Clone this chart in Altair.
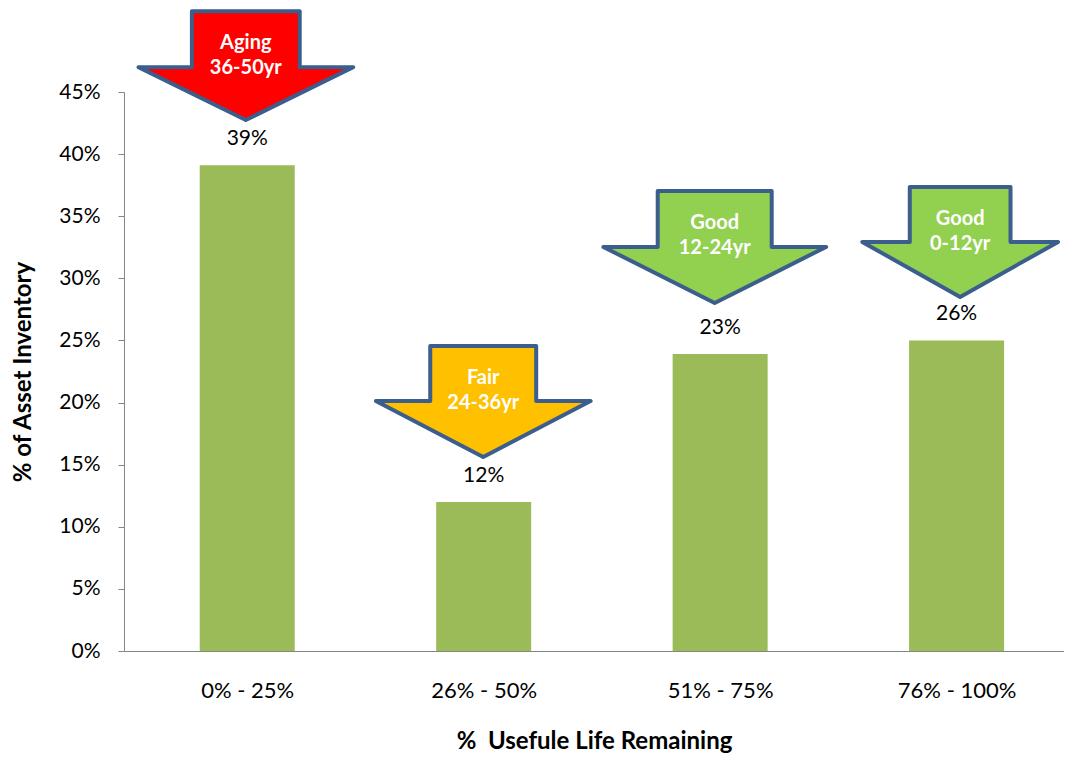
import altair as alt
import pandas as pd

FONT = "Lato"

categories = ["0% - 25%", "26% - 50%", "51% - 75%", "76% - 100%"]
values = [39.1, 12.0, 23.9, 25.0]
value_labels = ["39%", "12%", "23%", "26%"]

arrow_line1 = ["Aging", "Fair", "Good", "Good"]
arrow_line2 = ["36-50yr", "24-36yr", "12-24yr", "0-12yr"]
arrow_fill = ["#FF0000", "#FFC000", "#92D050", "#92D050"]
# annotation geometry: x in category units (category i centred at i + 0.5), y in percent
arrow_center = [0.494, 1.498, 2.477, 3.515]
arrow_top = [51.5, 24.56, 37.04, 37.36]
arrow_shoulder = [47.0, 20.13, 32.53, 32.93]
arrow_tip = [42.75, 15.62, 28.02, 28.50]
arrow_half_wing = [0.454, 0.454, 0.471, 0.414]
arrow_half_shaft = [0.228, 0.224, 0.241, 0.213]

W, H = 940, 559
STEP = 239.0
x_max = W / STEP
EPS = 0.001

df = pd.DataFrame({
    "pos": [i + 0.5 for i in range(len(categories))],
    "cat": categories,
    "value": values,
    "lab": value_labels,
})

rows = []
for i in range(len(arrow_center)):
    c, hs, hw = arrow_center[i], arrow_half_shaft[i], arrow_half_wing[i]
    pts = [
        (arrow_top[i], c - hs, c + hs),
        (arrow_shoulder[i], c - hs, c + hs),
        (arrow_shoulder[i] - EPS, c - hw, c + hw),
        (arrow_tip[i], c, c),
    ]
    for k, (yy, xa, xb) in enumerate(pts):
        rows.append({"aid": i, "k": k, "ay": yy, "ax": xa, "ax2": xb, "col": arrow_fill[i]})
adf = pd.DataFrame(rows)

tdf = pd.DataFrame({
    "cx": arrow_center,
    "top": arrow_top,
    "l1": arrow_line1,
    "l2": arrow_line2,
})

label_js = "[" + ",".join("'" + c + "'" for c in categories) + "][round(datum.value - 0.5)]"

xscale = alt.Scale(domain=[0, x_max], nice=False, zero=False)
yscale = alt.Scale(domain=[0, 45], nice=False, zero=True)

xaxis = alt.Axis(
    values=[i + 0.5 for i in range(len(categories))],
    labelExpr=label_js,
    grid=False, ticks=False, tickSize=0,
    labelPadding=39, labelBaseline="middle", labelFlush=False,
    labelFont=FONT, labelFontSize=22, labelColor="black",
    domainColor="#868686", domainWidth=1,
    title="% \u00a0Usefule Life Remaining",
    titleFont=FONT, titleFontSize=24, titleFontWeight="bold", titleColor="black",
    titleY=97, titleBaseline="alphabetic",
)
yaxis = alt.Axis(
    values=list(range(0, 50, 5)),
    labelExpr="datum.value + '%'",
    grid=False, tickSize=6, tickColor="#868686",
    domainColor="#868686", domainWidth=1,
    labelPadding=18, labelFont=FONT, labelFontSize=21, labelColor="black",
    title="% of Asset Inventory",
    titleFont=FONT, titleFontSize=24, titleFontWeight="bold", titleColor="black",
    titleX=-101, titleY=H / 2, titleAngle=270, titleAlign="center", titleBaseline="middle",
)


def X(f):
    return alt.X(f, type="quantitative", scale=xscale, axis=xaxis)


def Y(f):
    return alt.Y(f, type="quantitative", scale=yscale, axis=yaxis)


bars = alt.Chart(df).mark_bar(size=95, color="#9BBB59").encode(x=X("pos"), y=Y("value"))

vals = alt.Chart(df).mark_text(
    dy=-26, font=FONT, fontSize=21, color="black", baseline="middle"
).encode(x=X("pos"), y=Y("value"), text="lab:N")

arrows = alt.Chart(adf).mark_area(
    orient="horizontal", stroke="#3B5E8C", strokeWidth=4, strokeJoin="round", opacity=1
).encode(
    y=Y("ay"), x=X("ax"), x2="ax2",
    detail="aid:N",
    fill=alt.Fill("col:N", scale=None),
)

t1 = alt.Chart(tdf).mark_text(
    dy=32, font=FONT, fontSize=20, fontWeight="bold", color="white", baseline="middle"
).encode(x=X("cx"), y=Y("top"), text="l1:N")

t2 = alt.Chart(tdf).mark_text(
    dy=57, font=FONT, fontSize=20, fontWeight="bold", color="white", baseline="middle"
).encode(x=X("cx"), y=Y("top"), text="l2:N")

chart = alt.layer(bars, vals, arrows, t1, t2).properties(
    width=W, height=H,
    padding={"left": 116, "top": 84, "right": 0, "bottom": 102},
    autosize=alt.AutoSizeParams(type="none"),
).configure_view(stroke=None)

chart.save("out.html", embed_options={"renderer": "svg", "actions": False})
